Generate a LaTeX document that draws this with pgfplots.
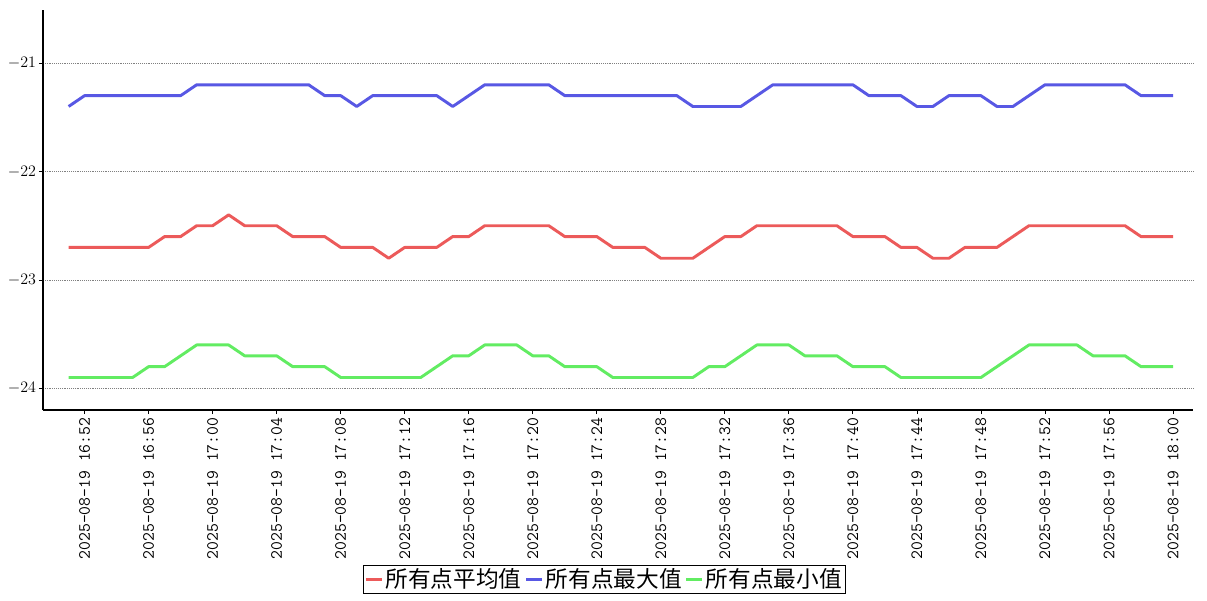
\documentclass[border=0pt]{standalone}
\usepackage{pgfplots}
\pgfplotsset{compat=1.18}
\usepackage{pgfplotstable}
\usepackage{fontspec}
\newfontfamily\cjk{Noto Sans CJK SC}
\definecolor{cavg}{RGB}{236,90,90}
\definecolor{cmax}{RGB}{88,88,228}
\definecolor{cmin}{RGB}{98,236,98}
\pgfplotstableread{
x avg max min
0 -22.7 -21.4 -23.9
1 -22.7 -21.3 -23.9
2 -22.7 -21.3 -23.9
3 -22.7 -21.3 -23.9
4 -22.7 -21.3 -23.9
5 -22.7 -21.3 -23.8
6 -22.6 -21.3 -23.8
7 -22.6 -21.3 -23.7
8 -22.5 -21.2 -23.6
9 -22.5 -21.2 -23.6
10 -22.4 -21.2 -23.6
11 -22.5 -21.2 -23.7
12 -22.5 -21.2 -23.7
13 -22.5 -21.2 -23.7
14 -22.6 -21.2 -23.8
15 -22.6 -21.2 -23.8
16 -22.6 -21.3 -23.8
17 -22.7 -21.3 -23.9
18 -22.7 -21.4 -23.9
19 -22.7 -21.3 -23.9
20 -22.8 -21.3 -23.9
21 -22.7 -21.3 -23.9
22 -22.7 -21.3 -23.9
23 -22.7 -21.3 -23.8
24 -22.6 -21.4 -23.7
25 -22.6 -21.3 -23.7
26 -22.5 -21.2 -23.6
27 -22.5 -21.2 -23.6
28 -22.5 -21.2 -23.6
29 -22.5 -21.2 -23.7
30 -22.5 -21.2 -23.7
31 -22.6 -21.3 -23.8
32 -22.6 -21.3 -23.8
33 -22.6 -21.3 -23.8
34 -22.7 -21.3 -23.9
35 -22.7 -21.3 -23.9
36 -22.7 -21.3 -23.9
37 -22.8 -21.3 -23.9
38 -22.8 -21.3 -23.9
39 -22.8 -21.4 -23.9
40 -22.7 -21.4 -23.8
41 -22.6 -21.4 -23.8
42 -22.6 -21.4 -23.7
43 -22.5 -21.3 -23.6
44 -22.5 -21.2 -23.6
45 -22.5 -21.2 -23.6
46 -22.5 -21.2 -23.7
47 -22.5 -21.2 -23.7
48 -22.5 -21.2 -23.7
49 -22.6 -21.2 -23.8
50 -22.6 -21.3 -23.8
51 -22.6 -21.3 -23.8
52 -22.7 -21.3 -23.9
53 -22.7 -21.4 -23.9
54 -22.8 -21.4 -23.9
55 -22.8 -21.3 -23.9
56 -22.7 -21.3 -23.9
57 -22.7 -21.3 -23.9
58 -22.7 -21.4 -23.8
59 -22.6 -21.4 -23.7
60 -22.5 -21.3 -23.6
61 -22.5 -21.2 -23.6
62 -22.5 -21.2 -23.6
63 -22.5 -21.2 -23.6
64 -22.5 -21.2 -23.7
65 -22.5 -21.2 -23.7
66 -22.5 -21.2 -23.7
67 -22.6 -21.3 -23.8
68 -22.6 -21.3 -23.8
69 -22.6 -21.3 -23.8
}\datatable
\begin{document}
\begin{tikzpicture}
\begin{axis}[
  scale only axis,
  width=862.5pt, height=300pt,
  xmin=-1.6, xmax=70.25,
  ymin=-24.2, ymax=-20.51,
  axis x line*=bottom, axis y line*=left,
  axis line style={-, black, line width=0.9pt},
  xtick={1,5,...,69},
  xticklabels={2025-08-19 16:52,2025-08-19 16:56,2025-08-19 17:00,2025-08-19 17:04,2025-08-19 17:08,2025-08-19 17:12,2025-08-19 17:16,2025-08-19 17:20,2025-08-19 17:24,2025-08-19 17:28,2025-08-19 17:32,2025-08-19 17:36,2025-08-19 17:40,2025-08-19 17:44,2025-08-19 17:48,2025-08-19 17:52,2025-08-19 17:56,2025-08-19 18:00},
  xticklabel style={rotate=90, anchor=east, font=\ttfamily\fontsize{12.9}{14}\selectfont, inner sep=2.5pt},
  ytick={-24,-23,-22,-21},
  yticklabel style={font=\fontsize{12.5}{14}\selectfont, inner sep=2pt},
  tick align=outside,
  major tick length=3pt,
  tick style={black, line width=0.6pt},
  ymajorgrids,
  grid style={gray, densely dotted, line width=0.5pt},
  legend columns=3,
  legend style={at={(0.488,-0.387)}, anchor=north, draw=black, line width=0.6pt,
    font=\cjk\fontsize{17}{20}\selectfont, inner xsep=1pt, inner ysep=1pt,
    /tikz/every even column/.append style={column sep=1pt},
    nodes={inner sep=1.5pt}},
  legend image code/.code={\draw[#1] (0pt,0pt) -- (12pt,0pt);},
  every axis plot/.append style={line width=2.2pt, line join=round},
]
\addplot[cavg] table[x=x, y=avg] {\datatable};
\addlegendentry{所有点平均值}
\addplot[cmax] table[x=x, y=max] {\datatable};
\addlegendentry{所有点最大值}
\addplot[cmin] table[x=x, y=min] {\datatable};
\addlegendentry{所有点最小值}
\end{axis}
\pgfresetboundingbox
\useasboundingbox (-32.25pt,-142.5pt) rectangle (873pt,307.5pt);
\end{tikzpicture}
\end{document}
